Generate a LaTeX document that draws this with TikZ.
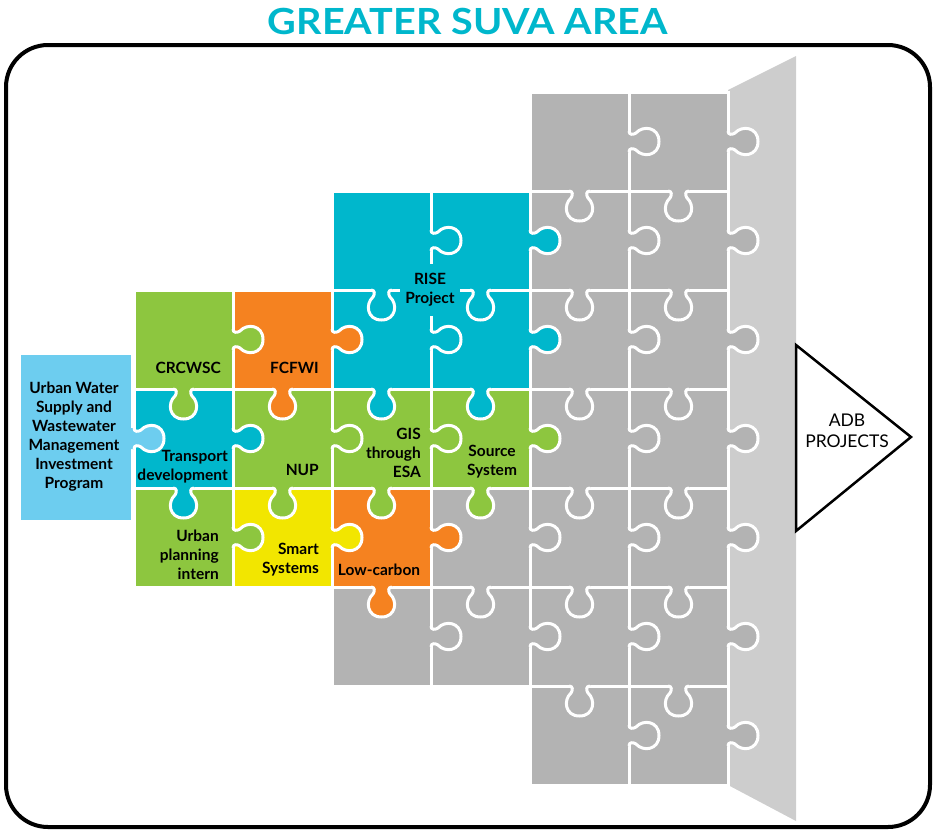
\documentclass[tikz,border=0pt]{standalone}
\usepackage{fontspec}
\setmainfont{Lato}
\definecolor{pteal}{RGB}{0,183,204}
\definecolor{pgreen}{RGB}{141,198,63}
\definecolor{porange}{RGB}{245,130,32}
\definecolor{pyellow}{RGB}{242,230,0}
\definecolor{pgray}{RGB}{179,179,179}
\definecolor{ptrap}{RGB}{205,205,205}
\definecolor{pblue}{RGB}{109,205,239}
\tikzstyle{seam} = [white, line width=3pt]
\tikzstyle{piecetext} = [font=\fontsize{15.5}{19}\selectfont\bfseries,
                         align=right, text=black, inner sep=0pt]
% knob profiles: right edge (tab points right), bottom edge (tab points down)
\newcommand{\rknob}{(0,39) .. controls (0,43) and (4,43) .. (7,41)
  .. controls (14,33) and (30,35) .. (30,49.5)
  .. controls (30,64) and (14,66) .. (7,58)
  .. controls (4,56) and (0,56) .. (0,60)}
\newcommand{\bknob}{(39,0) .. controls (43,0) and (43,4) .. (41,7)
  .. controls (33,14) and (35,30) .. (49.5,30)
  .. controls (64,30) and (66,14) .. (58,7)
  .. controls (56,4) and (56,0) .. (60,0)}
% column/row/colour/bottom tab
\def\pieces{5/1/pgray/1, 6/1/pgray/1,
  3/2/pteal/1, 4/2/pteal/1, 5/2/pgray/1, 6/2/pgray/1,
  1/3/pgreen/1, 2/3/porange/1, 3/3/pteal/1, 4/3/pteal/1, 5/3/pgray/1, 6/3/pgray/1,
  1/4/pteal/1, 2/4/pgreen/1, 3/4/pgreen/1, 4/4/pgreen/1, 5/4/pgray/1, 6/4/pgray/1,
  1/5/pgreen/0, 2/5/pyellow/0, 3/5/porange/1, 4/5/pgray/1, 5/5/pgray/1, 6/5/pgray/1,
  3/6/pgray/0, 4/6/pgray/0, 5/6/pgray/1, 6/6/pgray/1,
  5/7/pgray/0, 6/7/pgray/0}
\begin{document}
\begin{tikzpicture}[x=1pt, y=-1pt]
    \useasboundingbox (0,0) rectangle (935,831);

    \node[font=\fontsize{36}{36}\selectfont\bfseries, text=pteal, inner sep=0pt] (title) at (468,21) {\scalebox{1.1}[1]{GREATER SUVA AREA}};

    \draw[line width=4pt, rounded corners=42pt] (6,45) rectangle (930,827);

    % wall on the right
    \fill[ptrap] (728,90) -- (796,56) -- (796,821) -- (728,785) -- cycle;

    % program box
    \fill[pblue] (21,355) rectangle (131,520);

    % pieces
    \foreach \c/\r/\clr/\b in \pieces
        \fill[\clr] ({35+99*\c},{-7+99*\r}) rectangle ++(99,99);
    \foreach \c/\r/\clr/\b in \pieces
        \draw[seam] ({35+99*\c},{-7+99*\r}) rectangle ++(99,99);
    \foreach \c/\r/\clr/\b in \pieces {
        \begin{scope}[shift={({134+99*\c},{-7+99*\r})}]
            \fill[\clr] (-2,39) -- \rknob -- (-2,60) -- cycle;
            \draw[seam] \rknob;
        \end{scope}
        \ifnum\b=1
        \begin{scope}[shift={({35+99*\c},{92+99*\r})}]
            \fill[\clr] (39,-2) -- \bknob -- (60,-2) -- cycle;
            \draw[seam] \bknob;
        \end{scope}
        \fi
    }
    \begin{scope}[shift={(134,389)}]
        \fill[pblue] (-4,39) -- \rknob -- (-4,60) -- cycle;
        \draw[seam] \rknob;
    \end{scope}

    % target
    \draw[line width=2.5pt, fill=white, line join=miter] (796,345) -- (911,437) -- (796,531) -- cycle;

    % texts
    \node[piecetext, align=center] (program) at (74,437) {Urban Water\\Supply and\\Wastewater\\Management\\Investment\\Program};
    \node[piecetext, anchor=east] (crcwsc) at (221,368) {CRCWSC};
    \node[piecetext, anchor=east] (fcfwi) at (319,368) {FCFWI};
    \node[piecetext, anchor=east] (transport) at (228,467) {Transport\\development};
    \node[piecetext, anchor=east] (nup) at (319,470) {NUP};
    \node[piecetext, anchor=east] (gis) at (421,453) {GIS\\through\\ESA};
    \node[piecetext, align=center] (source) at (492,462) {Source\\System};
    \node[piecetext, fill=pteal, align=center, inner xsep=5pt, inner ysep=9pt] (rise) at (430,290) {RISE\\Project};
    \node[piecetext, anchor=east] (urban) at (219,555) {Urban\\planning\\intern};
    \node[piecetext, anchor=east] (smart) at (319,560) {Smart\\Systems};
    \node[piecetext, align=center] (lowcarbon) at (379,570) {Low-carbon};
    \node[font=\fontsize{17.5}{21}\selectfont, align=center, inner sep=0pt] (adb) at (847,431) {ADB\\PROJECTS};

\end{tikzpicture}
\end{document}
